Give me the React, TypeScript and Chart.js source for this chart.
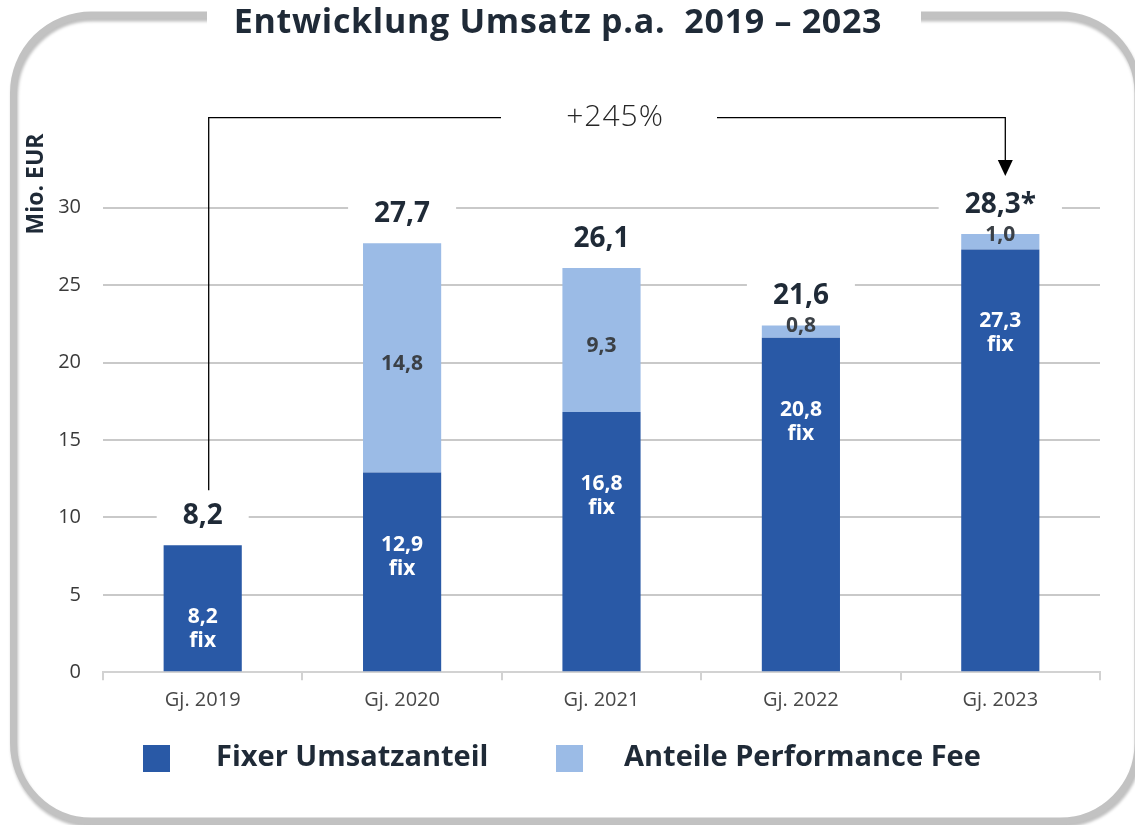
import React, { useEffect, useRef } from "react";
import { Chart, registerables } from "chart.js";

Chart.register(...registerables);

const categories = ["Gj. 2019", "Gj. 2020", "Gj. 2021", "Gj. 2022", "Gj. 2023"];
const fixedValues = [8.2, 12.9, 16.8, 21.6, 27.3];
const feeValues = [0, 14.8, 9.3, 0.8, 1.0];
const fixedLabels = ["8,2", "12,9", "16,8", "20,8", "27,3"];
const feeLabels = ["", "14,8", "9,3", "0,8", "1,0"];
const totalLabels = ["8,2", "27,7", "26,1", "21,6", "28,3*"];
const yTicks = [0, 5, 10, 15, 20, 25, 30];
const seriesNames = ["Fixer Umsatzanteil", "Anteile Performance Fee"];
const titleText = "Entwicklung Umsatz p.a.  2019 – 2023";
const growthText = "+245%";
const yAxisTitle = "Mio. EUR";

const DARK = "#2959a6";
const LIGHT = "#9bbbe6";
const TEXT = "#1f2a37";
const FONT = "'Open Sans', 'Noto Sans', sans-serif";

const W = 1135;
const H = 825;

function setSpacing(ctx: any, v: string) {
  try {
    ctx.letterSpacing = v;
  } catch (e) {
    /* ignore */
  }
}

const decorPlugin = {
  id: "decor",
  beforeDraw(chart: any) {
    const ctx = chart.ctx;
    ctx.save();
    ctx.fillStyle = "#ffffff";
    ctx.fillRect(0, 0, W, H);
    // frame
    const x0 = 13.5, y0 = 15, x1 = 1138, y1 = 821, r = 78;
    ctx.save();
    ctx.shadowColor = "rgba(0,0,0,0.25)";
    ctx.shadowOffsetX = 1;
    ctx.shadowOffsetY = 3;
    ctx.shadowBlur = 3;
    ctx.strokeStyle = "#c2c2c2";
    ctx.lineWidth = 7;
    ctx.beginPath();
    ctx.roundRect(x0, y0, x1 - x0, y1 - y0, r);
    ctx.stroke();
    ctx.restore();
    // gap for title
    ctx.fillStyle = "#ffffff";
    ctx.fillRect(207, 0, 921 - 207, 28);
    // title
    ctx.fillStyle = TEXT;
    ctx.font = `bold 34px ${FONT}`;
    setSpacing(ctx, "0.7px");
    ctx.textAlign = "center";
    ctx.textBaseline = "middle";
    ctx.fillText(titleText, 558, 23);
    setSpacing(ctx, "0px");
    // y axis title
    ctx.save();
    ctx.translate(36, 184);
    ctx.rotate(-Math.PI / 2);
    ctx.font = `bold 23px ${FONT}`;
    ctx.fillText(yAxisTitle, 0, 0);
    ctx.restore();
    ctx.restore();
  },
  afterDatasetsDraw(chart: any) {
    const ctx = chart.ctx;
    const xs = chart.scales.x;
    const ys = chart.scales.y;
    const m0 = chart.getDatasetMeta(0);
    const m1 = chart.getDatasetMeta(1);
    ctx.save();
    ctx.textAlign = "center";
    ctx.textBaseline = "middle";
    categories.forEach((_, i) => {
      const b0 = m0.data[i];
      const b1 = m1.data[i];
      const cx = b0.x;
      // fixed labels
      ctx.fillStyle = "#ffffff";
      ctx.font = `bold 21px ${FONT}`;
      ctx.fillText(fixedLabels[i], cx, b0.y + 72);
      ctx.fillText("fix", cx, b0.y + 96);
      // fee labels
      if (feeLabels[i]) {
        const top = b1.y;
        const bottom = b1.base;
        const hgt = bottom - top;
        const ly = hgt < 40 ? top + 1 : (top + bottom) / 2 + 6;
        ctx.fillStyle = "#3b4046";
        ctx.fillText(feeLabels[i], cx, ly);
      }
      // totals
      const topY = Math.min(b0.y, feeValues[i] > 0 ? b1.y : b0.y);
      const ty = topY - 29;
      ctx.font = `bold 28px ${FONT}`;
      const tw = ctx.measureText(totalLabels[i]).width;
      ctx.fillStyle = "#ffffff";
      ctx.fillRect(cx - tw / 2 - 26, ty - 17, tw + 52, 34);
      ctx.fillStyle = TEXT;
      ctx.fillText(totalLabels[i], cx, ty);
    });
    // growth bracket
    const xa = xs.getPixelForValue(0) + 6;
    const xb = xs.getPixelForValue(categories.length - 1) + 5;
    const yTop = ys.getPixelForValue(30) - 90;
    const yLeftBottom = m0.data[0].y - 55;
    const tipY = Math.min(m0.data[4].y, m1.data[4].y) - 58;
    ctx.strokeStyle = "#000000";
    ctx.lineWidth = 1.3;
    ctx.beginPath();
    ctx.moveTo(xa, yLeftBottom);
    ctx.lineTo(xa, yTop);
    ctx.lineTo(501, yTop);
    ctx.moveTo(717, yTop);
    ctx.lineTo(xb, yTop);
    ctx.lineTo(xb, tipY - 14);
    ctx.stroke();
    ctx.fillStyle = "#000000";
    ctx.beginPath();
    ctx.moveTo(xb - 7.5, tipY - 16);
    ctx.lineTo(xb + 7.5, tipY - 16);
    ctx.lineTo(xb, tipY);
    ctx.closePath();
    ctx.fill();
    ctx.fillStyle = "#262626";
    ctx.font = `300 30px ${FONT}`;
    setSpacing(ctx, "1px");
    ctx.fillText(growthText, 615, yTop);
    setSpacing(ctx, "0px");
    // legend
    const items = [
      { x: 143, tx: 216, color: DARK, label: seriesNames[0] },
      { x: 556, tx: 624, color: LIGHT, label: seriesNames[1] },
    ];
    ctx.font = `bold 29px ${FONT}`;
    ctx.textAlign = "left";
    items.forEach((it) => {
      ctx.fillStyle = it.color;
      ctx.fillRect(it.x, 745, 27, 27);
      ctx.fillStyle = TEXT;
      ctx.fillText(it.label, it.tx, 758);
    });
    ctx.restore();
  },
};

export default function App() {
  const ref = useRef<HTMLCanvasElement | null>(null);
  useEffect(() => {
    let chart: any = null;
    let cancelled = false;
    const make = () => {
      if (cancelled || !ref.current) return;
      chart = new Chart(ref.current, {
        type: "bar",
        data: {
          labels: categories,
          datasets: [
            { label: seriesNames[0], data: fixedValues, backgroundColor: DARK, borderWidth: 0 },
            { label: seriesNames[1], data: feeValues, backgroundColor: LIGHT, borderWidth: 0 },
          ],
        },
        options: {
          responsive: false,
          animation: false,
          devicePixelRatio: 1,
          layout: { padding: { left: 0, right: 35, top: 207.7, bottom: 102.7 } },
          plugins: {
            legend: { display: false },
            title: { display: false },
            tooltip: { enabled: false },
          },
          datasets: { bar: { barPercentage: 0.392, categoryPercentage: 1 } },
          scales: {
            x: {
              stacked: true,
              grid: {
                display: true,
                drawOnChartArea: false,
                drawTicks: true,
                tickLength: 8,
                color: "#d2d2d2",
                lineWidth: 2,
                offset: true,
              },
              border: { display: true, color: "#d2d2d2", width: 2 },
              ticks: {
                color: "#484848",
                font: { family: FONT, size: 20 },
                padding: 8,
              },
              afterFit: (s: any) => {
                s.height = 50;
              },
            },
            y: {
              stacked: true,
              min: 0,
              max: 30,
              afterBuildTicks: (s: any) => {
                s.ticks = yTicks.map((v) => ({ value: v }));
              },
              grid: { color: "#c9c9c9", lineWidth: 2, drawTicks: false },
              border: { display: false },
              ticks: {
                color: "#3a3a3a",
                font: { family: FONT, size: 20 },
                padding: 22,
              },
              afterFit: (s: any) => {
                s.width = 103;
              },
            },
          },
        },
        plugins: [decorPlugin],
      } as any);
    };
    const f: any = (document as any).fonts;
    if (f && f.load) {
      Promise.all([
        f.load(`bold 20px 'Open Sans'`),
        f.load(`300 20px 'Open Sans'`),
        f.load(`20px 'Open Sans'`),
      ])
        .catch(() => null)
        .then(make);
    } else {
      make();
    }
    return () => {
      cancelled = true;
      if (chart) chart.destroy();
    };
  }, []);
  return (
    <div style={{ position: "absolute", left: 0, top: 0, width: W, height: H, background: "#fff" }}>
      <canvas ref={ref} width={W} height={H} style={{ display: "block" }} />
    </div>
  );
}
